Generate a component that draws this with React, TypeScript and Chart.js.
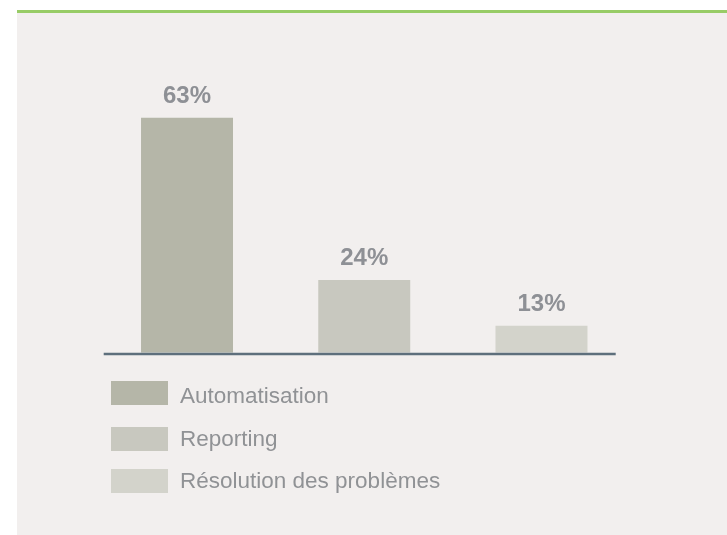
import React, { useEffect, useRef } from "react";
import { Chart, registerables } from "chart.js";

Chart.register(...registerables);

const categories = ["Automatisation", "Reporting", "Résolution des problèmes"];
const values = [63, 24, 13];
const barColors = ["#b5b6a8", "#c8c8bf", "#d3d3cb"];
const valueSuffix = "%";

const FONT = "'Liberation Sans', Arial, Helvetica, sans-serif";
const Y_MIN = 6.5;
const Y_MAX = 81.7;

export default function App() {
  const canvasRef = useRef<HTMLCanvasElement | null>(null);

  useEffect(() => {
    const canvas = canvasRef.current;
    if (!canvas) return;

    const valueLabels = {
      id: "valueLabels",
      afterDatasetsDraw(chart: any) {
        const ctx = chart.ctx;
        const meta = chart.getDatasetMeta(0);
        ctx.save();
        ctx.font = `bold 24px ${FONT}`;
        ctx.fillStyle = "#8e9095";
        ctx.textAlign = "center";
        ctx.textBaseline = "alphabetic";
        meta.data.forEach((bar: any, i: number) => {
          ctx.fillText(`${values[i]}${valueSuffix}`, bar.x, bar.y - 14.5);
        });
        ctx.restore();
      },
    };

    const baseline = {
      id: "baseline",
      afterDatasetsDraw(chart: any) {
        const { ctx, chartArea } = chart;
        ctx.save();
        ctx.strokeStyle = "#5e6f7c";
        ctx.lineWidth = 2.5;
        ctx.beginPath();
        const y = chartArea.bottom + 1.25;
        ctx.moveTo(chartArea.left + 5.3, y);
        ctx.lineTo(chartArea.right - 14.4, y);
        ctx.stroke();
        ctx.restore();
      },
    };

    const chart = new Chart(canvas, {
      type: "bar",
      data: {
        labels: categories,
        datasets: [
          {
            data: values,
            backgroundColor: barColors,
            borderWidth: 0,
            base: Y_MIN,
            categoryPercentage: 1,
            barPercentage: 0.519,
            clip: { left: false, top: false, right: false, bottom: 0 } as any,
          } as any,
        ],
      },
      options: {
        animation: false,
        responsive: false,
        maintainAspectRatio: false,
        devicePixelRatio: 1,
        layout: {
          padding: { left: 98.4, right: 96.9, top: 40, bottom: 47.3 },
        },
        scales: {
          x: { display: false, offset: true },
          y: { display: false, min: Y_MIN, max: Y_MAX },
        },
        plugins: {
          legend: { display: false },
          tooltip: { enabled: false },
        },
      },
      plugins: [valueLabels, baseline],
    });

    return () => {
      chart.destroy();
    };
  }, []);

  const swatchTops = [381, 427, 469];
  const textTops = [384.2, 426.7, 469.2];

  return (
    <div
      style={{
        position: "absolute",
        left: 0,
        top: 0,
        width: 727,
        height: 535,
        background: "#ffffff",
        overflow: "hidden",
        fontFamily: FONT,
      }}
    >
      <div
        style={{
          position: "absolute",
          left: 17,
          top: 10,
          width: 710,
          height: 525,
          background: "#f2efee",
          borderTop: "3px solid #98cc66",
          boxSizing: "border-box",
        }}
      />
      <canvas
        ref={canvasRef}
        width={727}
        height={400}
        style={{ position: "absolute", left: 0, top: 0, width: 727, height: 400 }}
      />
      {categories.map((name, i) => (
        <React.Fragment key={name}>
          <div
            style={{
              position: "absolute",
              left: 111,
              top: swatchTops[i],
              width: 57,
              height: 24,
              background: barColors[i],
            }}
          />
          <div
            style={{
              position: "absolute",
              left: 180,
              top: textTops[i],
              height: 24,
              lineHeight: "24px",
              fontSize: 22.5,
              color: "#909295",
              whiteSpace: "nowrap",
            }}
          >
            {name}
          </div>
        </React.Fragment>
      ))}
    </div>
  );
}
